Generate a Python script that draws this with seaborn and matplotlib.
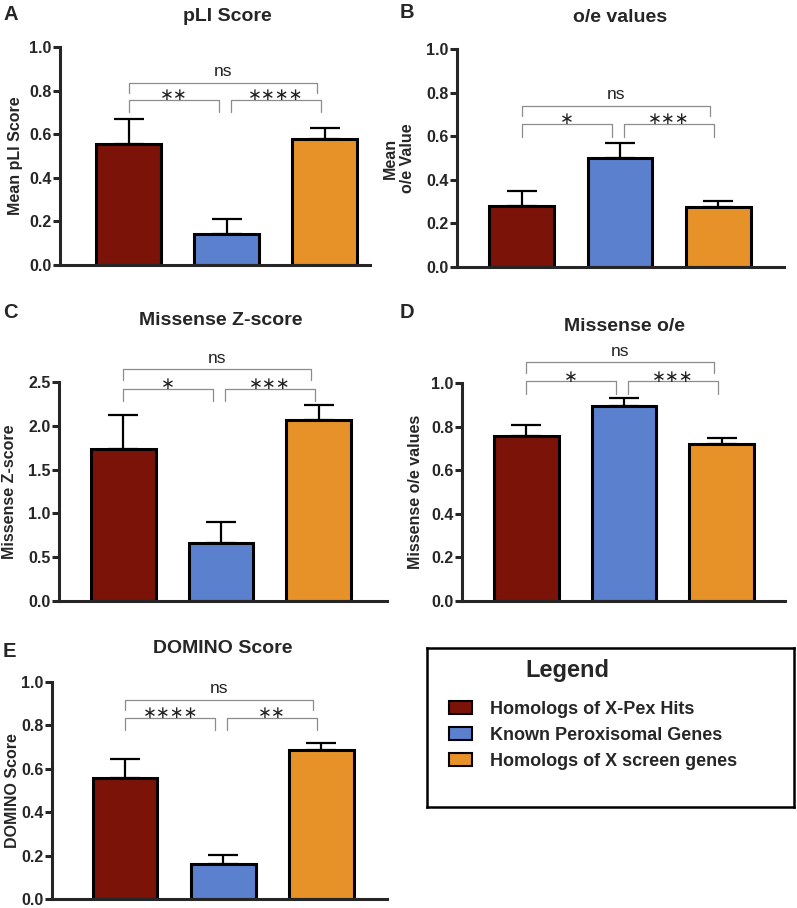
import numpy as np
import matplotlib
matplotlib.use("Agg")
import matplotlib.pyplot as plt
from matplotlib.patches import Patch
import seaborn as sns

# groups shown in every panel
groups = ["Homologs of X-Pex Hits", "Known Peroxisomal Genes", "Homologs of X screen genes"]
colors = ["#7C1309", "#5A80CE", "#E69229"]

# bar heights (mean) and upper error (SEM) for each panel
pli_mean = [0.555, 0.14, 0.577]
pli_sem = [0.113, 0.07, 0.05]
oe_mean = [0.28, 0.499, 0.273]
oe_sem = [0.07, 0.069, 0.029]
mis_z_mean = [1.73, 0.66, 2.07]
mis_z_sem = [0.39, 0.24, 0.17]
mis_oe_mean = [0.755, 0.893, 0.72]
mis_oe_sem = [0.053, 0.038, 0.026]
domino_mean = [0.559, 0.161, 0.686]
domino_sem = [0.086, 0.043, 0.035]

# significance: group1 vs group2, group2 vs group3, group1 vs group3
pli_sig = ["**", "****", "ns"]
oe_sig = ["*", "***", "ns"]
mis_z_sig = ["*", "***", "ns"]
mis_oe_sig = ["*", "***", "ns"]
domino_sig = ["****", "**", "ns"]

sns.set_style("ticks")
plt.rcParams["font.family"] = ["Liberation Sans", "DejaVu Sans"]

W, H = 797, 908
fig = plt.figure(figsize=(W / 100, H / 100), dpi=100)


def px_box(l, t, r, b):
    return [l / W, 1 - b / H, (r - l) / W, (b - t) / H]


# panel layout: letter, title, ylabel, data, ymax, ystep, brackets (outer, inner), pixel box, xlim,
# letter pos, title pos, ylabel x
panels = [
    dict(letter="A", title="pLI Score", ylabel="Mean pLI Score", mean=pli_mean, sem=pli_sem, sig=pli_sig,
         ymax=1.0, step=0.2, br=(0.836, 0.757), box=(60, 47, 370, 265), xlim=(-0.70, 2.46),
         lpos=(3, 20), tpos=(227, 21), ylx=16),
    dict(letter="B", title="o/e values", ylabel="Mean\no/e Value", mean=oe_mean, sem=oe_sem, sig=oe_sig,
         ymax=1.0, step=0.2, br=(0.74, 0.655), box=(457, 49, 784, 267), xlim=(-0.66, 2.67),
         lpos=(400, 18), tpos=(620, 22), ylx=399),
    dict(letter="C", title="Missense Z-score", ylabel="Missense Z-score", mean=mis_z_mean, sem=mis_z_sem,
         sig=mis_z_sig, ymax=2.5, step=0.5, br=(2.647, 2.425), box=(59, 382, 387, 601), xlim=(-0.66, 2.70),
         lpos=(3, 318), tpos=(221, 325), ylx=10),
    dict(letter="D", title="Missense o/e", ylabel="Missense o/e values", mean=mis_oe_mean, sem=mis_oe_sem,
         sig=mis_oe_sig, ymax=1.0, step=0.2, br=(1.095, 1.007), box=(462, 383, 785, 601), xlim=(-0.66, 2.65),
         lpos=(400, 318), tpos=(624, 331), ylx=415),
    dict(letter="E", title="DOMINO Score", ylabel="DOMINO Score", mean=domino_mean, sem=domino_sem,
         sig=domino_sig, ymax=1.0, step=0.2, br=(0.918, 0.836), box=(52, 682, 387, 899), xlim=(-0.745, 2.67),
         lpos=(3, 657), tpos=(223, 653), ylx=13),
]


def bracket(ax, x0, x1, y, drop, label):
    ax.plot([x0, x0, x1, x1], [y - drop, y, y, y - drop], color="#8c8c8c", lw=0.9,
            clip_on=False, solid_joinstyle="round")
    if label == "ns":
        ax.annotate(label, xy=((x0 + x1) / 2, y), xytext=(0, 2.5), textcoords="offset points",
                    ha="center", va="bottom", fontsize=12.5, color="#222222", annotation_clip=False)
    else:
        ax.annotate("\u2217" * len(label), xy=((x0 + x1) / 2, y), xytext=(0, 3.5),
                    textcoords="offset points", ha="center", va="center", fontsize=12,
                    family="DejaVu Sans", color="#222222", annotation_clip=False)


for p in panels:
    ax = fig.add_axes(px_box(*p["box"]))
    sns.barplot(x=groups, y=p["mean"], hue=groups, palette=colors, saturation=1, width=0.66,
                edgecolor="black", linewidth=2.2, errorbar=None, legend=False, ax=ax)
    ax.errorbar(range(3), p["mean"], yerr=[np.zeros(3), p["sem"]], fmt="none", ecolor="black",
                elinewidth=1.6, capsize=11, capthick=1.6, zorder=3)

    ax.set_xlim(*p["xlim"])
    ax.set_ylim(0, p["ymax"])
    ax.set_yticks(np.arange(0, p["ymax"] + 1e-9, p["step"]))
    ax.yaxis.set_major_formatter(matplotlib.ticker.FormatStrFormatter("%.1f"))
    ax.set_xticks([])
    ax.set_xlabel("")
    sns.despine(ax=ax)
    for s in ["left", "bottom"]:
        ax.spines[s].set_linewidth(2.2)
    ax.tick_params(axis="y", length=5, width=2.2, pad=1, labelsize=11.5)
    for t in ax.get_yticklabels():
        t.set_fontweight("bold")

    # y label centred at given pixel x
    l, t, r, b = p["box"]
    ax.set_ylabel(p["ylabel"], fontsize=11.5, fontweight="bold", va="center", linespacing=1.25)
    ax.yaxis.set_label_coords((p["ylx"] - l) / (r - l), 0.5)

    # significance brackets
    yspan = p["ymax"] / (b - t)
    outer, inner = p["br"]
    bracket(ax, 0.0, 0.92, inner, 12.5 * yspan, p["sig"][0])
    bracket(ax, 1.04, 1.96, inner, 12.5 * yspan, p["sig"][1])
    bracket(ax, 0.0, 1.92, outer, 10.5 * yspan, p["sig"][2])

    fig.text(p["lpos"][0] / W, 1 - p["lpos"][1] / H, p["letter"], fontsize=14.5,
             fontweight="bold", ha="left", va="baseline")
    fig.text(p["tpos"][0] / W, 1 - p["tpos"][1] / H, p["title"], fontsize=14,
             fontweight="bold", ha="center", va="baseline")

# legend panel
lx0, ly0, lx1, ly1 = 427, 648, 794, 807
ax_leg = fig.add_axes(px_box(lx0, ly0, lx1, ly1))
ax_leg.set_xticks([])
ax_leg.set_yticks([])
for s in ax_leg.spines.values():
    s.set_linewidth(1.8)
    s.set_color("black")
ax_leg.text((567.5 - lx0) / (lx1 - lx0), 1 - (677 - ly0) / (ly1 - ly0), "Legend",
            transform=ax_leg.transAxes, ha="center", va="baseline", fontsize=17, fontweight="bold")
handles = [Patch(facecolor=c, edgecolor="black", lw=1.5) for c in colors]
ax_leg.legend(handles, groups, loc="upper left",
              bbox_to_anchor=((449 - lx0) / (lx1 - lx0), 1 - (701 - ly0) / (ly1 - ly0)),
              frameon=False, borderpad=0, borderaxespad=0, handlelength=1.25, handleheight=0.7,
              handletextpad=1.0, labelspacing=0.5, prop={"size": 13, "weight": "bold"})

plt.savefig("out.png", dpi=100)
